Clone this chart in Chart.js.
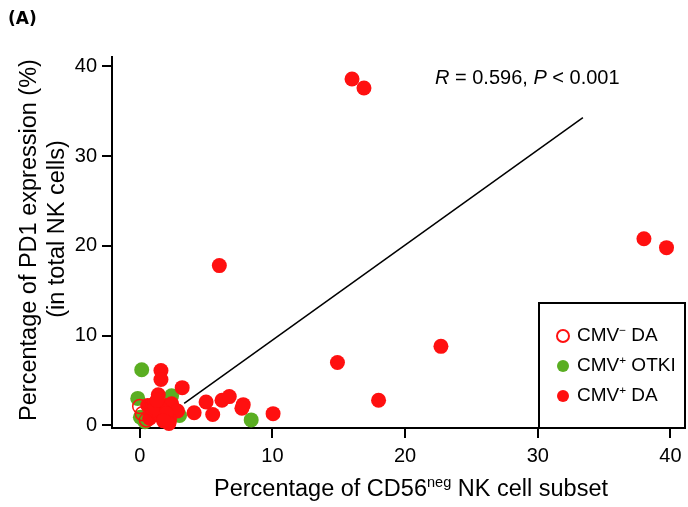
<!DOCTYPE html>
<html>
<head>
<meta charset="utf-8">
<script src="https://cdn.jsdelivr.net/npm/chart.js@4.4.1/dist/chart.umd.min.js"></script>
<style>
  html, body { margin: 0; padding: 0; background: #fff; }
  canvas { display: block; }
</style>
</head>
<body>
<canvas id="chart" width="688" height="507" style="width:688px;height:507px"></canvas>
<script>
// values
const negDaX = [0.0, 0.2, 0.5];
const negDaY = [2.1, 1.3, 0.6];

const otkiX = [0.15, -0.15, 0.4, 2.4, 3.0, 8.4, 0.05];
const otkiY = [6.2, 3.0, 0.4, 3.3, 1.1, 0.6, 0.9];

const posDaX = [16.0, 16.9, 6.0, 38.0, 39.7, 22.7, 14.9, 18.0, 10.05, 3.2, 1.6, 1.6,
                4.1, 5.0, 5.5, 6.2, 6.75, 7.8, 7.7,
                0.6, 1.1, 1.4, 2.0, 2.4, 2.85, 2.25, 1.5, 0.75, 1.7, 1.0, 2.0, 1.3, 2.2, 1.8];
const posDaY = [38.6, 37.6, 17.8, 20.8, 19.8, 8.8, 7.0, 2.8, 1.3, 4.2, 6.1, 5.1,
                1.4, 2.6, 1.2, 2.8, 3.2, 2.3, 1.9,
                2.2, 2.4, 3.4, 2.2, 2.4, 1.6, 0.6, 1.1, 0.8, 1.7, 1.7, 1.3, 2.8, 0.2, 0.5];

const fitX = [3.35, 33.4];
const fitY = [2.45, 34.3];

const xTicks = [0, 10, 20, 30, 40];
const yTicks = [0, 10, 20, 30, 40];

const RED = '#ff1010';
const GREEN = '#5aae22';
const FONT = '"Liberation Sans", Arial, sans-serif';

function pts(xs, ys) { return xs.map((x, i) => ({ x: x, y: ys[i] })); }

// text made of parts: {t, sup, italic}
function richWidth(ctx, parts, size) {
    let w = 0;
    parts.forEach(p => {
        const s = p.sup ? size * 0.62 : size;
        ctx.font = (p.italic ? 'italic ' : '') + s + 'px ' + FONT;
        w += ctx.measureText(p.t).width;
    });
    return w;
}
function drawRich(ctx, parts, x, y, size, align) {
    let cx = align === 'center' ? x - richWidth(ctx, parts, size) / 2 : x;
    ctx.textBaseline = 'middle';
    ctx.textAlign = 'left';
    parts.forEach(p => {
        const s = p.sup ? size * 0.62 : size;
        ctx.font = (p.italic ? 'italic ' : '') + s + 'px ' + FONT;
        ctx.fillText(p.t, cx, p.sup ? y - size * 0.3 : y);
        cx += ctx.measureText(p.t).width;
    });
}

const decorations = {
    id: 'decorations',
    afterDraw(chart) {
        const ctx = chart.ctx;
        ctx.save();
        ctx.fillStyle = '#000';

        // panel letter
        ctx.font = 'bold 17px "DejaVu Sans", sans-serif';
        ctx.textBaseline = 'middle';
        ctx.fillText('(A)', 8, 20);

        // y axis title, two lines
        ctx.font = '23.5px ' + FONT;
        ctx.textAlign = 'center';
        ctx.save();
        ctx.translate(30, 240);
        ctx.rotate(-Math.PI / 2);
        ctx.fillText('Percentage of PD1 expression (%)', 0, 0);
        ctx.restore();
        ctx.save();
        ctx.translate(58, 229);
        ctx.rotate(-Math.PI / 2);
        ctx.fillText('(in total NK cells)', 0, 0);
        ctx.restore();

        // x axis title
        drawRich(ctx, [{ t: 'Percentage of CD56' }, { t: 'neg', sup: true }, { t: ' NK cell subset' }],
                 411, 490, 23.5, 'center');

        // correlation note
        drawRich(ctx, [{ t: 'R', italic: true }, { t: ' = 0.596, ' }, { t: 'P', italic: true }, { t: ' < 0.001' }],
                 435, 78, 20, 'left');

        // legend box (bottom edge sits on the x axis)
        ctx.lineWidth = 2;
        ctx.strokeStyle = '#000';
        ctx.fillStyle = '#fff';
        ctx.fillRect(539, 303, 146, 125);
        ctx.strokeRect(539, 303, 146, 125);

        const rows = [
            { y: 336, fill: null, parts: [{ t: 'CMV' }, { t: '\u2212', sup: true }, { t: ' DA' }] },
            { y: 366, fill: GREEN, parts: [{ t: 'CMV' }, { t: '+', sup: true }, { t: ' OTKI' }] },
            { y: 396, fill: RED, parts: [{ t: 'CMV' }, { t: '+', sup: true }, { t: ' DA' }] }
        ];
        rows.forEach(r => {
            ctx.beginPath();
            ctx.arc(563, r.y, 6, 0, Math.PI * 2);
            if (r.fill) {
                ctx.fillStyle = r.fill;
                ctx.fill();
            } else {
                ctx.lineWidth = 2;
                ctx.strokeStyle = RED;
                ctx.stroke();
            }
            ctx.fillStyle = '#000';
            drawRich(ctx, r.parts, 577, r.y, 19, 'left');
        });
        ctx.restore();
    }
};

const axisStyle = {
    border: { display: true, color: '#000', width: 2 },
    grid: { drawOnChartArea: false, drawTicks: true, tickLength: 10, color: '#000', lineWidth: 2 },
    title: { display: false }
};

new Chart(document.getElementById('chart'), {
    type: 'scatter',
    data: {
        datasets: [
            {
                label: 'fit',
                type: 'line',
                data: pts(fitX, fitY),
                borderColor: '#000',
                borderWidth: 1.5,
                pointRadius: 0,
                fill: false,
                order: 0,
                clip: false
            },
            {
                label: 'CMV- DA',
                data: pts(negDaX, negDaY),
                pointRadius: 7,
                pointBorderWidth: 1.5,
                borderColor: RED,
                backgroundColor: 'rgba(0,0,0,0)',
                order: 1,
                clip: false
            },
            {
                label: 'CMV+ DA',
                data: pts(posDaX, posDaY),
                pointRadius: 7.5,
                pointBorderWidth: 0,
                backgroundColor: RED,
                borderColor: RED,
                order: 2,
                clip: false
            },
            {
                label: 'CMV+ OTKI',
                data: pts(otkiX, otkiY),
                pointRadius: 7.5,
                pointBorderWidth: 0,
                backgroundColor: GREEN,
                borderColor: GREEN,
                order: 3,
                clip: false
            }
        ]
    },
    options: {
        responsive: false,
        animation: false,
        layout: { padding: { top: 57, right: 0, left: 0, bottom: 0 } },
        plugins: { legend: { display: false }, tooltip: { enabled: false } },
        scales: {
            x: Object.assign({}, axisStyle, {
                type: 'linear',
                min: -2.09,
                max: 40.68,
                ticks: { color: '#000', padding: 6, font: { family: FONT, size: 20 } },
                afterBuildTicks: s => { s.ticks = xTicks.map(v => ({ value: v })); },
                afterFit: s => { s.height = 79; s.paddingLeft = 0; s.paddingRight = 0; }
            }),
            y: Object.assign({}, axisStyle, {
                type: 'linear',
                min: -0.3,
                max: 41.05,
                ticks: { color: '#000', padding: 5, font: { family: FONT, size: 20 } },
                afterBuildTicks: s => { s.ticks = yTicks.map(v => ({ value: v })); },
                afterFit: s => { s.width = 112; s.paddingTop = 0; s.paddingBottom = 0; }
            })
        }
    },
    plugins: [decorations]
});
</script>
</body>
</html>
